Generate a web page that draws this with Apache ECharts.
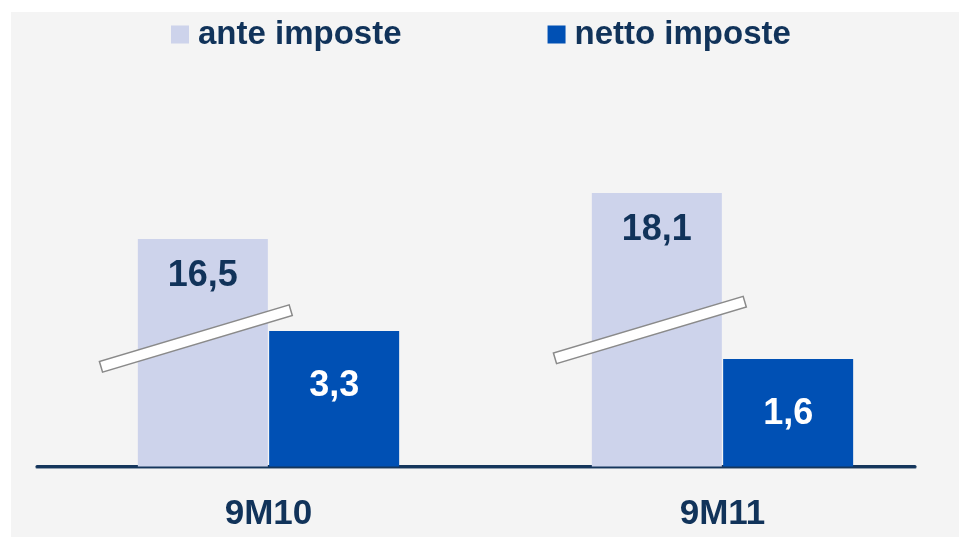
<!DOCTYPE html>
<html>
<head>
<meta charset="utf-8">
<script src="https://cdn.jsdelivr.net/npm/echarts@6/dist/echarts.min.js"></script>
<style>
  html, body { margin: 0; padding: 0; background: #fff; }
  #chart { width: 959px; height: 537px; }
</style>
</head>
<body>
<div id="chart"></div>
<script>
  // valori
  var categories = ['9M10', '9M11'];
  var anteValues = [16.5, 18.1];
  var nettoValues = [3.3, 1.6];
  // altezze come disegnate (l'asse e' spezzato), in unita' dell'asse
  var anteDrawn = [227.5, 273.5];
  var nettoDrawn = [135.5, 107.5];
  // livello della barretta di interruzione sulle barre chiare
  var breakLevels = [128, 136.5];

  var navy = '#11335a';
  var font = '"Liberation Sans", Arial, sans-serif';

  function fmt (v) {
    return String(v).replace('.', ',');
  }

  var chart = echarts.init(document.getElementById('chart'));
  var option = {
    backgroundColor: '#ffffff',
    animation: false,
    graphic: [{
      type: 'rect',
      left: 11,
      top: 12,
      z: -10,
      shape: { width: 948, height: 525 },
      style: { fill: '#f4f4f4' },
      silent: true
    }],
    legend: {
      data: ['ante imposte', 'netto imposte'],
      left: 171,
      top: 18,
      padding: 0,
      icon: 'rect',
      itemWidth: 18,
      itemHeight: 18,
      itemGap: 146,
      selectedMode: false,
      textStyle: {
        color: navy,
        fontSize: 33,
        fontWeight: 'bold',
        fontFamily: font,
        padding: [0, 0, 0, 4]
      }
    },
    grid: [
      { left: 41.5, right: 9.5, top: 66.5, bottom: 70.5 },
      { left: 37, right: 44, top: 66.5, bottom: 70.5 }
    ],
    xAxis: [{
      type: 'category',
      gridIndex: 0,
      data: categories,
      axisLine: { show: false },
      axisTick: { show: false },
      axisLabel: {
        margin: 30,
        color: navy,
        fontSize: 35,
        fontWeight: 'bold',
        fontFamily: font
      }
    }, {
      type: 'value',
      gridIndex: 1,
      min: 0,
      max: 1,
      axisLine: {
        show: true,
        lineStyle: { color: '#15365c', width: 3, shadowColor: 'rgba(21,54,92,0.45)', shadowOffsetY: 1 }
      },
      axisTick: { show: false },
      axisLabel: { show: false },
      splitLine: { show: false }
    }],
    yAxis: [
      { type: 'value', gridIndex: 0, min: 0, max: 400, show: false },
      { type: 'value', gridIndex: 1, min: 0, max: 1, show: false }
    ],
    series: [
      {
        name: 'ante imposte',
        type: 'bar',
        barWidth: 130,
        barGap: '1%',
        itemStyle: { color: '#cdd3eb' },
        label: {
          show: true,
          position: 'insideTop',
          distance: 19,
          color: navy,
          fontSize: 36,
          fontWeight: 'bold',
          fontFamily: font,
          formatter: function (p) { return fmt(anteValues[p.dataIndex]); }
        },
        data: anteDrawn
      },
      {
        name: 'netto imposte',
        type: 'bar',
        barWidth: 130,
        itemStyle: { color: '#0050b4' },
        label: {
          show: true,
          position: 'insideTop',
          distance: 37,
          color: '#ffffff',
          fontSize: 36,
          fontWeight: 'bold',
          fontFamily: font,
          formatter: function (p) { return fmt(nettoValues[p.dataIndex]); }
        },
        data: nettoDrawn
      },
      {
        type: 'custom',
        silent: true,
        clip: false,
        z: 5,
        renderItem: function (params, api) {
          var c = api.coord([api.value(0), api.value(1)]);
          var band = api.size([1, 0])[0];
          var len = 198, th = 11;
          return {
            type: 'rect',
            x: c[0] - band * 0.16,
            y: c[1],
            rotation: 0.29,
            shape: { x: -len / 2, y: -th / 2, width: len, height: th },
            style: { fill: '#ffffff', stroke: '#8a8a8a', lineWidth: 1.5 }
          };
        },
        data: breakLevels.map(function (v, i) { return [i, v]; })
      }
    ]
  };
  chart.setOption(option);
</script>
</body>
</html>
